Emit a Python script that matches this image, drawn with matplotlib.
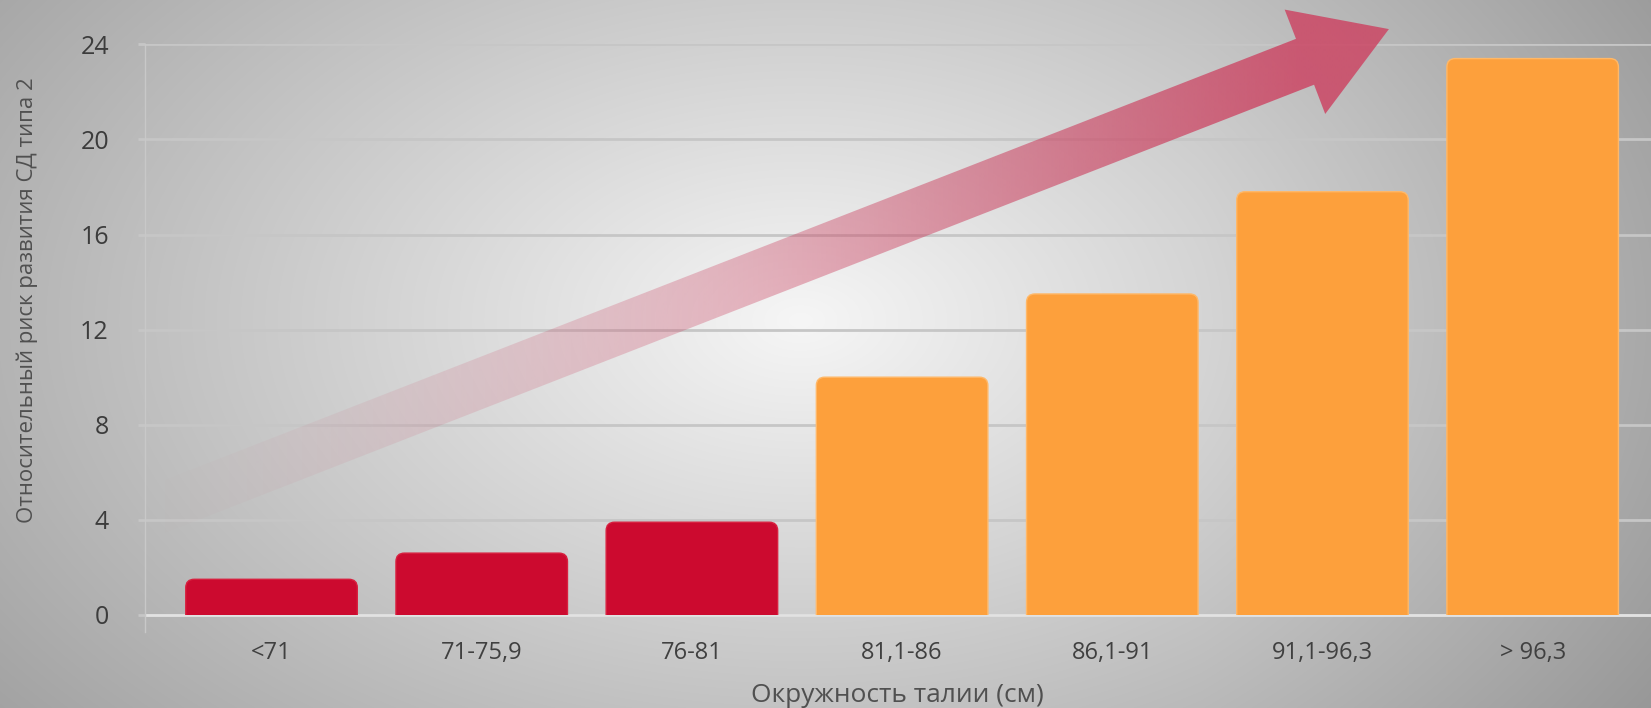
import numpy as np
import matplotlib.pyplot as plt
from matplotlib.patches import FancyBboxPatch, Polygon, Rectangle

plt.rcParams['font.family'] = ['Open Sans', 'DejaVu Sans']

# waist circumference groups and relative risk of type 2 diabetes
categories = ["<71", "71-75,9", "76-81", "81,1-86", "86,1-91", "91,1-96,3", "> 96,3"]
risk = [1.5, 2.6, 3.9, 10.0, 13.5, 17.8, 23.4]
y_ticks = [0, 4, 8, 12, 16, 20, 24]

red = "#cc0a2f"
orange = "#fda03c"
bar_colors = [red] * 3 + [orange] * 4

W, H = 1651, 708
fig = plt.figure(figsize=(W / 100, H / 100), dpi=100)

# grey radial backdrop
bg = fig.add_axes([0, 0, 1, 1], zorder=-1)
yy, xx = np.mgrid[0:H, 0:W]
r = np.sqrt(((xx - 800) / 900.0) ** 2 + ((yy - 320) / 560.0) ** 2)
v = np.clip(246 - 74 * r, 150, 255) / 255.0
v -= 0.03 * np.clip((xx - 1200) / 450.0, 0, 1)
bg.imshow(np.dstack([v, v, v]), extent=[0, 1, 0, 1], aspect='auto')
bg.axis('off')

ax = fig.add_axes([145 / W, 1 - 631.6 / H, 1 - 145 / W, (631.6 - 44.3) / H])
ax.set_facecolor('none')

x = np.arange(len(categories))
bars = ax.bar(x, risk, width=0.816, color=bar_colors)

xlim = (-0.602, 6.563)
ylim = (-0.7, 24)
# px per data unit, used to keep the corner rounding circular
aspect = (210.2) / (23.78)

# rounded tops: replace each plain bar with a rounded box clipped at zero
for b, c in zip(bars, bar_colors):
    bx, bw, bh = b.get_x(), b.get_width(), b.get_height()
    b.set_visible(False)
    edge = "#ffb868" if c == orange else "#d8203f"
    p = FancyBboxPatch((bx, -1), bw, bh + 1,
                       boxstyle="round,pad=0,rounding_size=0.04",
                       mutation_aspect=aspect,
                       facecolor=c, edgecolor=edge, linewidth=1, zorder=3)
    ax.add_patch(p)
    p.set_clip_path(Rectangle((xlim[0], 0), 10, 30, transform=ax.transData))

# rising arrow with a fading tail
arrow_pts = [(-0.602, 5.353), (4.874, 24.23), (4.820, 25.46), (5.316, 24.64),
             (5.013, 21.07), (4.960, 22.30), (-0.602, 3.124)]
poly = Polygon(arrow_pts, closed=True, facecolor='none', edgecolor='none',
               transform=ax.transData)
ax.add_patch(poly)
gx = np.linspace(-0.602, 5.32, 300)
t = np.clip((gx + 0.602) / 5.5, 0, 1)
alpha = 0.85 * t ** 1.3
grad = np.zeros((1, len(gx), 4))
grad[0, :, 0] = 204 / 255
grad[0, :, 1] = 70 / 255
grad[0, :, 2] = 100 / 255
grad[0, :, 3] = alpha
im = ax.imshow(grad, extent=[-0.602, 5.32, 3.0, 25.6], aspect='auto',
               interpolation='bilinear', zorder=2)
im.set_clip_path(poly)
im.set_clip_box(fig.bbox)

ax.set_xlim(*xlim)
ax.set_ylim(*ylim)

ax.set_yticks(y_ticks)
ax.set_xticks(x)
ax.set_xticklabels(categories)
ax.yaxis.grid(True, color='#c6c6c6', linewidth=2)
ax.set_axisbelow(True)
ax.axhline(0, color='#e2e2e2', linewidth=2, zorder=1)

ax.tick_params(axis='y', length=5, width=2, color='#c6c6c6', pad=21,
               labelsize=18, labelcolor='#3c3c3c')
ax.tick_params(axis='x', length=0, pad=7, labelsize=17, labelcolor='#404040')

for s in ['top', 'right', 'bottom']:
    ax.spines[s].set_visible(False)
ax.spines['left'].set_color('#c8c8c8')
ax.spines['left'].set_linewidth(1)

fig.text(897 / W, 1 - 695 / H, "Окружность талии (см)", ha='center', va='center',
         fontsize=19, color='#505050')
fig.text(27 / W, 1 - 300 / H, "Относительный риск развития СД типа 2", rotation=90,
         ha='center', va='center', fontsize=16, color='#505050')

fig.savefig('out.png', dpi=100)
